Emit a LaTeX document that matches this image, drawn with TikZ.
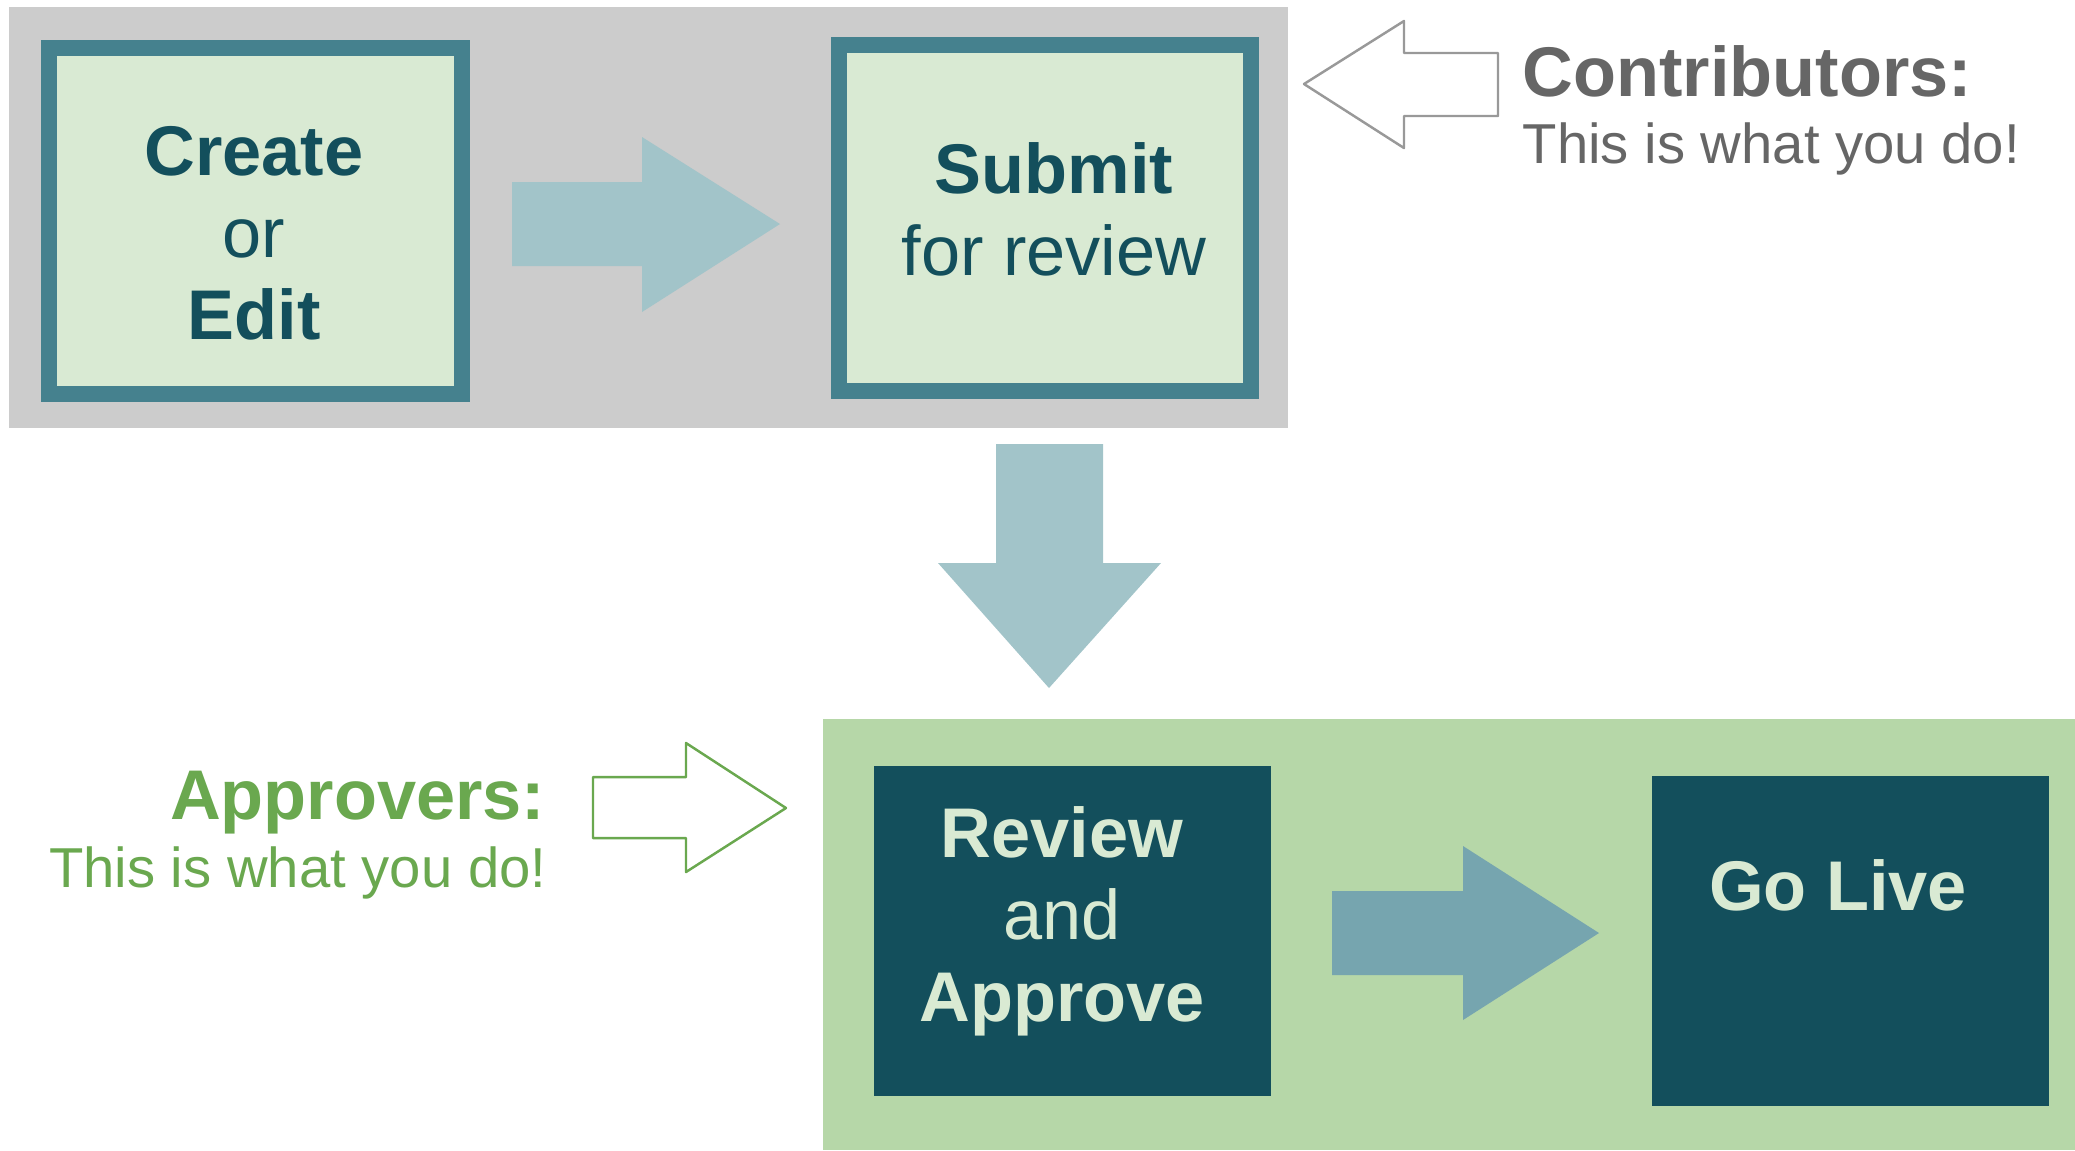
\documentclass[tikz,border=0pt]{standalone}
\usepackage{fontspec}
\setmainfont{Liberation Sans}
\usepackage{xcolor}
\definecolor{bandgrey}{HTML}{CCCCCC}
\definecolor{bandgreen}{HTML}{B6D7A8}
\definecolor{tealdark}{HTML}{134F5C}
\definecolor{tealmid}{HTML}{45818E}
\definecolor{teallight}{HTML}{A2C4C9}
\definecolor{tealsoft}{HTML}{76A5AF}
\definecolor{mintpale}{HTML}{D9EAD3}
\definecolor{greytext}{HTML}{666666}
\definecolor{greyline}{HTML}{999999}
\definecolor{greenlabel}{HTML}{6AA84F}

\begin{document}
\begin{tikzpicture}[x=0.01cm, y=-0.01cm,
  stepcard/.style={draw=tealmid, fill=mintpale, line width=0.16cm,
    minimum width=4.13cm, minimum height=3.46cm, inner sep=0pt},
  donecard/.style={fill=tealdark, minimum width=3.97cm, minimum height=3.30cm, inner sep=0pt},
  cardtext/.style={align=center, inner sep=0pt, font=\fontsize{20}{23.3}\selectfont},
  headline/.style={inner sep=0pt, font=\fontsize{20}{23.3}\selectfont\bfseries},
  subline/.style={inner sep=0pt, font=\fontsize{16}{19}\selectfont}]
  \useasboundingbox (0,0) rectangle (2075,1150);

  % Bands behind the two groups
  \fill[bandgrey] (9,7) rectangle (1288,428);
  \fill[bandgreen] (823,719) rectangle (2075,1150);

  % Steps
  \node[stepcard] (create) at (255.5,221) {};
  \node[stepcard, minimum width=4.12cm] (submit) at (1045,218) {};
  \node[donecard] (review) at (1072.5,931) {};
  \node[donecard] (golive) at (1850.5,941) {};

  % Step texts
  \node[cardtext, text=tealdark] (createtxt) at (254,233) {\textbf{Create}\\or\\\textbf{Edit}};
  \node[cardtext, text=tealdark] (submittxt) at (1054,209) {\textbf{Submit}\\for review};
  \node[cardtext, text=mintpale] (reviewtxt) at (1062,921.7) {\textbf{Review}\\and\\\textbf{Approve}};
  \node[cardtext, text=mintpale, anchor=base] (golivetxt) at (1838,910.7) {\textbf{Go Live}};

  % Block arrows between the steps
  \fill[teallight] (512,182) -- (642,182) -- (642,137) -- (780,224)
    -- (642,312) -- (642,266) -- (512,266) -- cycle;
  \fill[teallight] (996,444) -- (1103,444) -- (1103,563) -- (1161,563)
    -- (1049,688) -- (938,563) -- (996,563) -- cycle;
  \fill[tealsoft] (1332,891) -- (1463,891) -- (1463,846) -- (1599,933)
    -- (1463,1020) -- (1463,975) -- (1332,975) -- cycle;

  % Who does what
  \draw[greyline, line width=0.7pt, line join=round] (1304,84) -- (1404,21) -- (1404,53)
    -- (1498,53) -- (1498,116) -- (1404,116) -- (1404,148) -- cycle;
  \node[headline, text=greytext, anchor=base west] (contribhead) at (1522,96.7) {Contributors:};
  \node[subline, text=greytext, anchor=base west] (contribsub) at (1522,163) {This is what you do!};

  \draw[greenlabel, line width=0.7pt, line join=round] (593,777) -- (686,777) -- (686,743)
    -- (786,808) -- (686,872) -- (686,838) -- (593,838) -- cycle;
  \node[headline, text=greenlabel, anchor=base east] (approvhead) at (546,819) {Approvers:};
  \node[subline, text=greenlabel, anchor=base east] (approvsub) at (547,887) {This is what you do!};
\end{tikzpicture}
\end{document}
